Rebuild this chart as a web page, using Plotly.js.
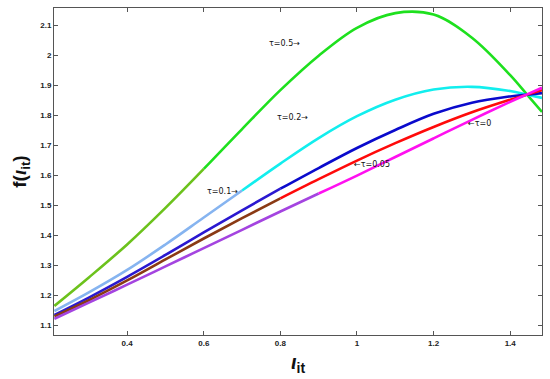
<!DOCTYPE html>
<html>
<head>
<meta charset="utf-8">
<script src="https://cdn.plot.ly/plotly-3.0.1.min.js"></script>
<style>html,body{margin:0;padding:0;background:#fff;}#chart{width:550px;height:379px;}</style>
</head>
<body>
<div id="chart"></div>
<script>
// x values (iota_it)
const xVals = [0.21, 0.3, 0.4, 0.5, 0.6, 0.7, 0.8, 0.9, 1.0, 1.1, 1.2, 1.3, 1.4, 1.444, 1.483];
// f(iota_it) for each tau
const yTau05  = [1.165, 1.26, 1.37, 1.492, 1.622, 1.755, 1.885, 2.0, 2.093, 2.142, 2.137, 2.06, 1.935, 1.87, 1.812];
const yTau02  = [1.148, 1.21, 1.285, 1.37, 1.46, 1.55, 1.64, 1.725, 1.798, 1.853, 1.887, 1.896, 1.882, 1.870, 1.859];
const yTau01  = [1.135, 1.193, 1.262, 1.335, 1.41, 1.484, 1.556, 1.625, 1.692, 1.752, 1.806, 1.843, 1.864, 1.870, 1.875];
const yTau005 = [1.13, 1.184, 1.25, 1.32, 1.39, 1.458, 1.524, 1.588, 1.65, 1.708, 1.762, 1.811, 1.853, 1.870, 1.885];
const yTau0   = [1.122, 1.176, 1.236, 1.297, 1.358, 1.419, 1.48, 1.54, 1.6, 1.662, 1.724, 1.786, 1.846, 1.871, 1.893];

const seriesNames = ['τ=0.5', 'τ=0.2', 'τ=0.1', 'τ=0.05', 'τ=0'];
const seriesY = [yTau05, yTau02, yTau01, yTau005, yTau0];
const colorsHigh = ['#1ee01e', '#12eeee', '#0a0acc', '#ff0a0a', '#ff10f0'];
const colorsLow  = ['#6cc21c', '#86b4f0', '#2a18d0', '#8a3a14', '#a444e0'];

// label texts and positions (data coordinates)
const labelTexts = ['τ=0.5→', 'τ=0.2→', 'τ=0.1→', '←τ=0.05', '←τ=0'];
const labelX = [0.81, 0.832, 0.65, 1.038, 1.32];
const labelY = [2.04, 1.795, 1.548, 1.636, 1.773];

const fadeLevel = 1.52;
const traces = [];
seriesY.forEach((ys, i) => {
  let k = ys.findIndex(v => v >= fadeLevel);
  if (k < 0) k = ys.length - 1;
  traces.push({x: xVals.slice(0, k + 1), y: ys.slice(0, k + 1), mode: 'lines', type: 'scatter',
    line: {color: colorsLow[i], width: 2.6, shape: 'spline', smoothing: 1}, name: seriesNames[i], hoverinfo: 'skip'});
  traces.push({x: xVals.slice(k), y: ys.slice(k), mode: 'lines', type: 'scatter',
    line: {color: colorsHigh[i], width: 2.6, shape: 'spline', smoothing: 1}, name: seriesNames[i], hoverinfo: 'skip'});
});

const annotations = labelTexts.map((t, i) => ({
  x: labelX[i], y: labelY[i], xref: 'x', yref: 'y', text: t, showarrow: false,
  font: {family: 'DejaVu Sans, sans-serif', size: 8, color: '#111'}
}));

const axisCommon = {
  showgrid: false, zeroline: false, showline: true, linecolor: '#555', linewidth: 1,
  mirror: 'ticks', ticks: 'inside', ticklen: 4, tickcolor: '#555',
  tickfont: {family: 'Liberation Sans, Arial, sans-serif', size: 8, color: '#222', weight: 'bold'}
};

const layout = {
  width: 550, height: 379,
  margin: {l: 54, r: 8, t: 8, b: 44},
  paper_bgcolor: '#fff', plot_bgcolor: '#fff',
  showlegend: false,
  xaxis: Object.assign({}, axisCommon, {
    range: [0.209, 1.483], tickvals: [0.4, 0.6, 0.8, 1, 1.2, 1.4], ticktext: ['0.4','0.6','0.8','1','1.2','1.4'],
    title: {text: '<b><i>ι</i></b><sub><b>it</b></sub>', standoff: 8,
      font: {family: 'Liberation Sans, Arial, sans-serif', size: 20, color: '#111'}}
  }),
  yaxis: Object.assign({}, axisCommon, {
    range: [1.068, 2.159], tickvals: [1.1,1.2,1.3,1.4,1.5,1.6,1.7,1.8,1.9,2,2.1],
    ticktext: ['1.1','1.2','1.3','1.4','1.5','1.6','1.7','1.8','1.9','2','2.1'],
    title: {text: '<b>f(<i>ι</i></b><sub><b>it</b></sub><b>)</b>', standoff: 8,
      font: {family: 'Liberation Sans, Arial, sans-serif', size: 19, color: '#111'}}
  }),
  annotations: annotations
};

Plotly.newPlot('chart', traces, layout, {staticPlot: true, displayModeBar: false});
</script>
</body>
</html>
